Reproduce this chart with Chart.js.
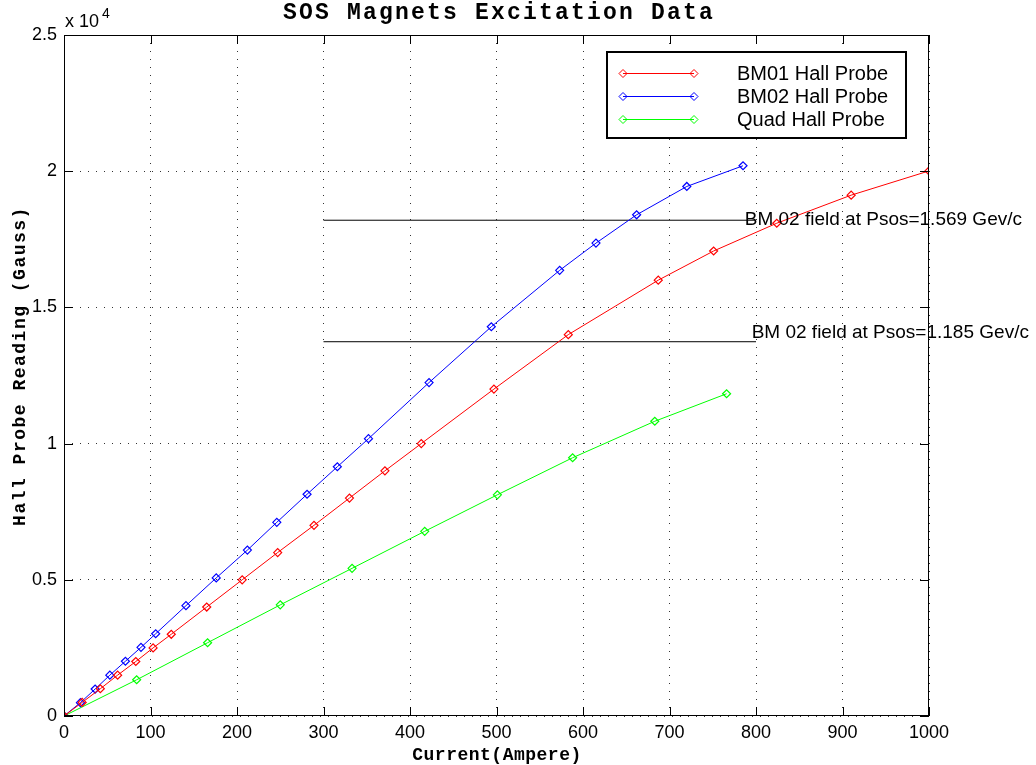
<!DOCTYPE html>
<html>
<head>
<meta charset="utf-8">
<script src="https://cdn.jsdelivr.net/npm/chart.js@4.4.0/dist/chart.umd.min.js"></script>
<style>
  body { margin: 0; background: #fff; }
  #wrap { width: 1036px; height: 765px; position: relative; }
</style>
</head>
<body>
<div id="wrap"><canvas id="Chart"></canvas></div>
<script>
// values (current in A, field in Gauss)
const bm01Current = [0, 21, 42, 62, 83, 103, 124, 165, 206, 247, 289, 330, 371, 413, 497, 583, 687, 751, 824, 910, 1000];
const bm01Field = [0, 500, 1000, 1500, 2000, 2500, 3000, 4000, 5000, 6000, 7000, 8000, 9000, 10000, 12000, 14000, 16000, 17070, 18090, 19120, 20010];

const bm02Current = [0, 19, 36, 53, 71, 89, 106, 141, 176, 212, 246, 281, 316, 352, 422, 494, 573, 615, 662, 720, 785];
const bm02Field = [0, 490, 990, 1500, 2010, 2520, 3020, 4050, 5070, 6090, 7110, 8140, 9150, 10180, 12240, 14290, 16360, 17360, 18400, 19440, 20200];

const quadCurrent = [0, 84, 166, 250, 333, 417, 501, 588, 683, 766];
const quadField = [0, 1330, 2690, 4080, 5420, 6780, 8120, 9480, 10820, 11830];

const refLineCurrent = [300, 800];
const refFieldHigh = 18200;
const refFieldLow = 13740;
const refNotes = [
  { x: 787, y: 18200, text: "BM 02 field at Psos=1.569 Gev/c" },
  { x: 795, y: 14060, text: "BM 02 field at Psos=1.185 Gev/c" },
];

const xTicks = [0, 100, 200, 300, 400, 500, 600, 700, 800, 900, 1000];
const yTicks = [0, 5000, 10000, 15000, 20000, 25000];

const toPoints = (xs, ys) => xs.map((x, i) => ({ x: x, y: ys[i] }));

const series = (label, color, xs, ys) => ({
  label: label,
  data: toPoints(xs, ys),
  borderColor: color,
  backgroundColor: "transparent",
  pointBorderColor: color,
  pointBackgroundColor: "transparent",
  pointStyle: "rectRot",
  pointRadius: 4,
  pointBorderWidth: 1.2,
  borderWidth: 1,
  showLine: true,
});

const refLine = (y) => ({
  label: "",
  isRef: true,
  data: refLineCurrent.map((x) => ({ x: x, y: y })),
  borderColor: "#000",
  borderWidth: 1,
  pointRadius: 0,
  showLine: true,
});

const sans = '"Liberation Sans", Arial, sans-serif';
const mono = '"Liberation Mono", "Courier New", monospace';

const decorations = {
  id: "decorations",
  afterDatasetsDraw(chart) {
    const c = chart.ctx;
    const a = chart.chartArea;
    const xs = chart.scales.x;
    const ys = chart.scales.y;
    c.save();

    // box
    c.strokeStyle = "#000";
    c.lineWidth = 1;
    c.strokeRect(a.left + 0.5, a.top + 0.5, a.right - a.left - 1, a.bottom - a.top - 1);

    // inward ticks on all sides
    c.beginPath();
    xTicks.forEach((v) => {
      const px = Math.round(xs.getPixelForValue(v)) + 0.5;
      c.moveTo(px, a.bottom); c.lineTo(px, a.bottom - 9);
      c.moveTo(px, a.top); c.lineTo(px, a.top + 9);
    });
    yTicks.forEach((v) => {
      const py = Math.round(ys.getPixelForValue(v)) + 0.5;
      c.moveTo(a.left, py); c.lineTo(a.left + 9, py);
      c.moveTo(a.right, py); c.lineTo(a.right - 9, py);
    });
    c.stroke();

    // annotations
    c.fillStyle = "#000";
    c.font = "19px " + sans;
    c.textAlign = "left";
    c.textBaseline = "middle";
    refNotes.forEach((n) => {
      c.fillText(n.text, xs.getPixelForValue(n.x), ys.getPixelForValue(n.y));
    });

    // legend
    const lx = 607, ly = 52, lw = 299, lh = 86;
    c.fillStyle = "#fff";
    c.fillRect(lx, ly, lw, lh);
    c.strokeStyle = "#000";
    c.lineWidth = 2;
    c.strokeRect(lx, ly, lw, lh);
    const items = chart.data.datasets.filter((d) => !d.isRef);
    items.forEach((d, i) => {
      const y = 73.5 + i * 23;
      c.strokeStyle = d.borderColor;
      c.lineWidth = 1;
      c.beginPath();
      c.moveTo(623, y); c.lineTo(694, y);
      c.stroke();
      [623, 694].forEach((px) => {
        c.beginPath();
        c.moveTo(px, y - 4); c.lineTo(px + 4, y); c.lineTo(px, y + 4); c.lineTo(px - 4, y); c.closePath();
        c.stroke();
      });
      c.fillStyle = "#000";
      c.font = "20px " + sans;
      c.textBaseline = "middle";
      c.fillText(d.label, 737, y + 1);
    });

    // exponent
    c.font = "18px " + sans;
    c.textBaseline = "alphabetic";
    c.fillText("x 10", 65, 27);
    c.font = "14px " + sans;
    c.fillText("4", 102, 18);

    // title and axis titles
    c.textAlign = "center";
    c.font = "bold 23px " + mono;
    c.letterSpacing = "2.2px";
    c.fillText("SOS Magnets Excitation Data", 499, 19);
    c.font = "bold 18px " + mono;
    c.letterSpacing = "0.5px";
    c.fillText("Current(Ampere)", 497, 760);
    c.translate(25, 366);
    c.rotate(-Math.PI / 2);
    c.letterSpacing = "1.5px";
    c.fillText("Hall Probe Reading (Gauss)", 0, 0);
    c.restore();
  },
};

const ctx = document.getElementById("Chart");

new Chart(ctx, {
  type: "scatter",
  data: {
    datasets: [
      series("BM01 Hall Probe", "#ff0000", bm01Current, bm01Field),
      series("BM02 Hall Probe", "#0000ff", bm02Current, bm02Field),
      series("Quad Hall Probe", "#00ff00", quadCurrent, quadField),
      refLine(refFieldHigh),
      refLine(refFieldLow),
    ],
  },
  options: {
    responsive: true,
    maintainAspectRatio: false,
    animation: false,
    devicePixelRatio: 1,
    layout: { padding: { top: 35, right: 107, bottom: 0, left: 0 } },
    plugins: {
      legend: { display: false },
      tooltip: { enabled: false },
    },
    scales: {
      x: {
        type: "linear",
        min: 0,
        max: 1000,
        afterFit: (s) => { s.height = 49; },
        afterBuildTicks: (s) => { s.ticks = xTicks.map((v) => ({ value: v })); },
        ticks: {
          color: "#000",
          font: { family: sans, size: 18 },
          padding: 6,
          maxRotation: 0,
          callback: (v) => String(v),
        },
        grid: { color: "#333", drawTicks: false },
        border: { display: false, dash: [1, 7] },
      },
      y: {
        type: "linear",
        min: 0,
        max: 25000,
        afterFit: (s) => { s.width = 64; },
        afterBuildTicks: (s) => { s.ticks = yTicks.map((v) => ({ value: v })); },
        ticks: {
          color: "#000",
          font: { family: sans, size: 18 },
          padding: 7,
          callback: (v) => String(v / 10000),
        },
        grid: { color: "#333", drawTicks: false },
        border: { display: false, dash: [1, 7] },
      },
    },
  },
  plugins: [decorations],
});
</script>
</body>
</html>
